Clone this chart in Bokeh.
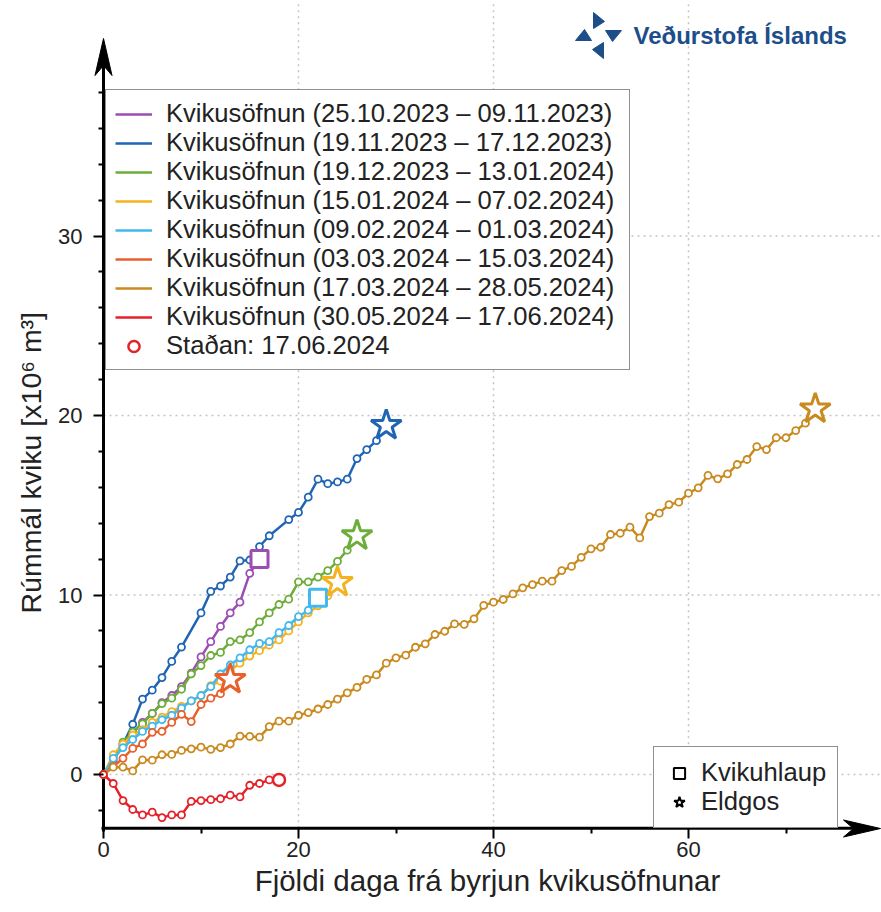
from bokeh.plotting import figure
from bokeh.models import (Range1d, FixedTicker, Legend, LegendItem, Title,
                          ColumnDataSource)
from bokeh.core.properties import value
from bokeh.embed import file_html
from bokeh.resources import INLINE

FONT = "Liberation Sans"
TEXT = "#222222"
LOGO = "#1d4e89"

# ---------------- data ----------------
labels = [
    "Kvikusöfnun (25.10.2023 – 09.11.2023)",
    "Kvikusöfnun (19.11.2023 – 17.12.2023)",
    "Kvikusöfnun (19.12.2023 – 13.01.2024)",
    "Kvikusöfnun (15.01.2024 – 07.02.2024)",
    "Kvikusöfnun (09.02.2024 – 01.03.2024)",
    "Kvikusöfnun (03.03.2024 – 15.03.2024)",
    "Kvikusöfnun (17.03.2024 – 28.05.2024)",
    "Kvikusöfnun (30.05.2024 – 17.06.2024)",
]
colors = ["#9b4db3", "#1f65b4", "#6dad39", "#f4b220", "#41b8ee",
          "#e8602b", "#c98a20", "#e4222a"]
ends = ["square", "star", "star", "star", "square", "star", "star", "now"]

purple_days = [0, 1, 2, 3, 4, 5, 6, 7, 8, 9, 10, 11, 12, 13, 14, 15, 16]
purple_vol = [0, 0.8, 1.6, 2.3, 2.9, 3.4, 4.0, 4.4, 4.9, 5.65, 6.55, 7.4,
              8.25, 9.0, 9.6, 11.2, 12.0]

blue_days = [0, 2, 3, 4, 5, 6, 7, 8, 10, 11, 12, 13, 14, 15, 16, 17, 19, 20,
             21, 22, 23, 24, 25, 26, 27, 28, 29]
blue_vol = [0, 1.7, 2.8, 4.2, 4.7, 5.4, 6.3, 7.1, 9.0, 10.2, 10.5, 11.0, 11.9,
            11.95, 12.7, 13.3, 14.2, 14.6, 15.45, 16.45, 16.2, 16.3, 16.45,
            17.6, 18.1, 18.6, 19.45]

green_days = [0, 1, 2, 3, 4, 5, 6, 7, 8, 9, 10, 11, 12, 13, 14, 15, 16, 17,
              18, 19, 20, 21, 22, 23, 24, 25, 26]
green_vol = [0, 0.96, 1.8, 2.36, 2.82, 3.4, 3.95, 4.25, 4.75, 5.6, 6.07, 6.63,
             6.8, 7.4, 7.5, 7.9, 8.5, 9.0, 9.47, 9.77, 10.73, 10.73, 11.0,
             11.36, 11.87, 12.5, 13.3]

yellow_days = [0, 1, 2, 3, 4, 5, 6, 7, 8, 9, 10, 11, 12, 13, 14, 15, 16, 17,
               18, 19, 20, 21, 22, 23, 24]
yellow_vol = [0, 1.1, 1.7, 2.2, 2.5, 2.9, 3.2, 3.5, 3.8, 4.1, 4.4, 4.95, 5.2,
              5.8, 6.2, 6.6, 6.9, 7.2, 7.5, 8.0, 8.5, 9.0, 9.4, 9.95, 10.7]

cyan_days = [0, 1, 2, 3, 4, 5, 6, 7, 8, 9, 10, 11, 12, 13, 14, 15, 16, 17,
             18, 19, 20, 21, 22]
cyan_vol = [0, 0.9, 1.5, 1.95, 2.4, 2.7, 3.05, 3.3, 3.7, 4.1, 4.4, 4.9, 5.6,
            6.1, 6.5, 6.95, 7.3, 7.4, 7.9, 8.3, 8.8, 9.15, 9.85]

orange_days = [0, 1, 2, 3, 4, 5, 6, 7, 8, 9, 10, 11, 12, 13]
orange_vol = [0, 0.45, 0.9, 1.45, 1.7, 2.35, 2.4, 2.9, 3.35, 2.95, 3.9, 4.25,
              4.5, 5.3]

brown_days = [0, 1, 2, 3, 4, 5, 6, 7, 8, 9, 10, 11, 12, 13, 14, 15, 16, 17,
              18, 19, 20, 21, 22, 23, 24, 25, 26, 27, 28, 29, 30, 31, 32, 33,
              34, 35, 36, 37, 38, 39, 40, 41, 42, 43, 44, 45, 46, 47, 48, 49,
              50, 51, 52, 53, 54, 55, 56, 57, 58, 59, 60, 61, 62, 63, 64, 65,
              66, 67, 68, 69, 70, 71, 72, 73]
brown_vol = [0, 0.41, 0.41, 0.2, 0.82, 0.8, 1.1, 1.12, 1.34, 1.43, 1.52, 1.4,
             1.5, 1.7, 2.14, 2.12, 2.08, 2.67, 2.97, 2.97, 3.3, 3.45, 3.65,
             3.9, 4.2, 4.55, 4.85, 5.3, 5.55, 6.2, 6.5, 6.65, 7.09, 7.28, 7.8,
             7.98, 8.39, 8.36, 8.67, 9.42, 9.6, 9.75, 10.06, 10.4, 10.58,
             10.77, 10.77, 11.36, 11.59, 12.1, 12.57, 12.66, 13.37, 13.44,
             13.78, 13.18, 14.37, 14.56, 15.04, 15.17, 15.67, 15.97, 16.66,
             16.47, 16.75, 17.27, 17.55, 18.27, 18.1, 18.76, 18.76, 19.16,
             19.57, 20.37]

red_days = [0, 1, 2, 3, 4, 5, 6, 7, 8, 9, 10, 11, 12, 13, 14, 15, 16, 17, 18]
red_vol = [0, -0.5, -1.45, -1.95, -2.25, -2.1, -2.4, -2.25, -2.25, -1.5,
           -1.45, -1.4, -1.35, -1.15, -1.25, -0.6, -0.5, -0.3, -0.3]

series = [(purple_days, purple_vol), (blue_days, blue_vol),
          (green_days, green_vol), (yellow_days, yellow_vol),
          (cyan_days, cyan_vol), (orange_days, orange_vol),
          (brown_days, brown_vol), (red_days, red_vol)]

x_ticks = [0, 20, 40, 60]
x_minor = [10, 30, 50, 70]
y_ticks = [0, 10, 20, 30]
y_minor = [-2, 2, 4, 6, 8, 12, 14, 16, 18, 22, 24, 26, 28, 32, 34, 36, 38]

now_label = "Staðan: 17.06.2024"
event_labels = ["Kvikuhlaup", "Eldgos"]
logo_text = "Veðurstofa Íslands"
xlabel = "Fjöldi daga frá byrjun kvikusöfnunar"
ylabel = "Rúmmál kviku [x10⁶ m³]"

# ---------------- layout (page pixels) ----------------
W, H = 881, 910
OX, OY = 103, 774        # pixel of data origin (0, 0)
PX_X, PX_Y = 9.75, 17.95
Y0 = -3.0                # x axis position
FL = 93                  # frame left (px)
FBOT = 838               # frame bottom (px)
GAP = 10                 # distance frame edge -> drawn axis line


def dx(px):
    return (px - OX) / PX_X


def dy(py):
    return (OY - py) / PX_Y


p = figure(width=W, height=H,
           x_range=Range1d(dx(FL), dx(W)), y_range=Range1d(dy(FBOT), dy(0)),
           output_backend="svg", toolbar_location=None,
           min_border_left=FL, min_border_right=0, min_border_top=0,
           min_border_bottom=H - FBOT)
p.outline_line_color = None
p.background_fill_color = "white"
p.border_fill_color = "white"
p.grid.visible = False

for ax in (p.xaxis[0], p.yaxis[0]):
    ax.axis_line_color = None
    ax.major_tick_line_color = "black"
    ax.major_tick_line_width = 2
    ax.minor_tick_line_color = "black"
    ax.minor_tick_line_width = 2
    ax.major_tick_in = GAP
    ax.major_tick_out = 0
    ax.minor_tick_in = GAP
    ax.minor_tick_out = -5
    ax.major_label_text_font = FONT
    ax.major_label_text_font_size = "22px"
    ax.major_label_text_color = TEXT
p.xaxis.ticker = FixedTicker(ticks=x_ticks, minor_ticks=x_minor)
p.yaxis.ticker = FixedTicker(ticks=y_ticks, minor_ticks=y_minor)
p.xaxis.major_label_standoff = 3
p.yaxis.major_label_standoff = 11
p.xaxis.axis_label = xlabel
p.xaxis.axis_label_text_font = FONT
p.xaxis.axis_label_text_font_size = "29.5px"
p.xaxis.axis_label_text_font_style = "normal"
p.xaxis.axis_label_text_color = TEXT
p.xaxis.axis_label_standoff = 4

p.add_layout(Title(text=ylabel, align="left", offset=FBOT - 613,
                   standoff=18, text_font=FONT, text_font_size="28.5px",
                   text_font_style="normal", text_color=TEXT), "left")

# dotted grid at the labelled ticks
y_top = dy(0)
x_right = dx(W)
gx = x_ticks[1:]
p.segment(x0=gx, y0=[Y0] * len(gx), x1=gx, y1=[y_top] * len(gx),
          line_color="#c4c4c4", line_width=1.5, line_dash="2 4")
p.segment(x0=[0] * len(y_ticks), y0=y_ticks, x1=[x_right] * len(y_ticks),
          y1=y_ticks, line_color="#c4c4c4", line_width=1.5, line_dash="2 4")

# axis lines and arrow heads
p.segment(x0=[0, dx(101)], y0=[dy(831), Y0], x1=[0, dx(862)],
          y1=[dy(62), Y0], line_color="black", line_width=3)
head_y = [(103, 38), (111.5, 75), (103, 65), (94.5, 75)]
head_x = [(880, 828), (843, 819.5), (853, 828), (843, 836.5)]
p.patches([[dx(a) for a, b in head_y], [dx(a) for a, b in head_x]],
          [[dy(b) for a, b in head_y], [dy(b) for a, b in head_x]],
          fill_color="black", line_color="black", line_width=1)

# series
line_renderers = []
for (d, v), c in zip(series, colors):
    r = p.line(d, v, line_color=c, line_width=2.5)
    line_renderers.append(r)
    p.scatter(d[:-1], v[:-1], marker="circle", size=7, fill_color="white",
              line_color=c, line_width=1.8)

sq = dict(x=[], y=[], c=[])
st = dict(x=[], y=[], c=[])
for (d, v), c, e in zip(series, colors, ends):
    if e == "square":
        sq["x"].append(d[-1]); sq["y"].append(v[-1]); sq["c"].append(c)
    elif e == "star":
        st["x"].append(d[-1]); st["y"].append(v[-1]); st["c"].append(c)
sq_src = ColumnDataSource(sq)
st_src = ColumnDataSource(st)
p.scatter("x", "y", source=sq_src, marker="square", size=17,
          fill_color="white", line_color="c", line_width=3)
p.scatter("x", "y", source=st_src, marker="star", size=32,
          fill_color="white", line_color="c", line_width=3)
now_r = p.scatter([red_days[-1]], [red_vol[-1]], marker="circle", size=12,
                  fill_color="white", line_color=colors[7], line_width=2.5)
sq_leg = p.scatter("x", "y", source=sq_src, marker="square",
                   fill_color="white", line_color="black", line_width=2,
                   visible=False)
st_leg = p.scatter("x", "y", source=st_src, marker="star",
                   fill_color="white", line_color="black", line_width=2,
                   visible=False)

# legends
items1 = [LegendItem(label=l, renderers=[r]) for l, r in zip(labels, line_renderers)]
items1.append(LegendItem(label=now_label, renderers=[now_r]))
leg1 = Legend(items=items1, location=(105 - FL, FBOT - 370),
              orientation="vertical", label_text_font=FONT,
              label_text_font_size="25.6px", label_text_color=TEXT,
              glyph_width=37, glyph_height=28, label_height=28,
              label_width=454, label_standoff=14, spacing=0, padding=9,
              margin=0, border_line_color="#222222", border_line_width=1.5,
              background_fill_color="white", background_fill_alpha=1)
p.add_layout(leg1)

leg2 = Legend(items=[LegendItem(label=event_labels[0], renderers=[sq_leg]),
                     LegendItem(label=event_labels[1], renderers=[st_leg])],
              location=(653 - FL, FBOT - 828), orientation="vertical",
              label_text_font=FONT, label_text_font_size="25.6px",
              label_text_color=TEXT, glyph_width=28, glyph_height=28,
              label_height=28, label_width=125, label_standoff=8,
              spacing=0, padding=11, margin=0, border_line_color="#222222",
              border_line_width=1.5, background_fill_color="white",
              background_fill_alpha=1)
p.add_layout(leg2)

# logo
cx, cy = 598, 35
base = [(593, 12), (593, 28), (604, 21)]
lxs, lys = [], []
for k in range(4):
    px_, py_ = [], []
    for (bx, by) in base:
        ddx, ddy = bx - cx, by - cy
        for _ in range(k):
            ddx, ddy = -ddy, ddx
        px_.append(dx(cx + ddx))
        py_.append(dy(cy + ddy))
    lxs.append(px_)
    lys.append(py_)
p.patches(lxs, lys, fill_color=LOGO, line_color=LOGO, line_width=1)
p.text(x=[dx(633)], y=[dy(35)], text=[logo_text], text_font=value(FONT),
       text_font_size="24px", text_font_style="bold", text_color=LOGO,
       text_align="left", text_baseline="middle")

open("out.html", "w").write(file_html(p, INLINE))
